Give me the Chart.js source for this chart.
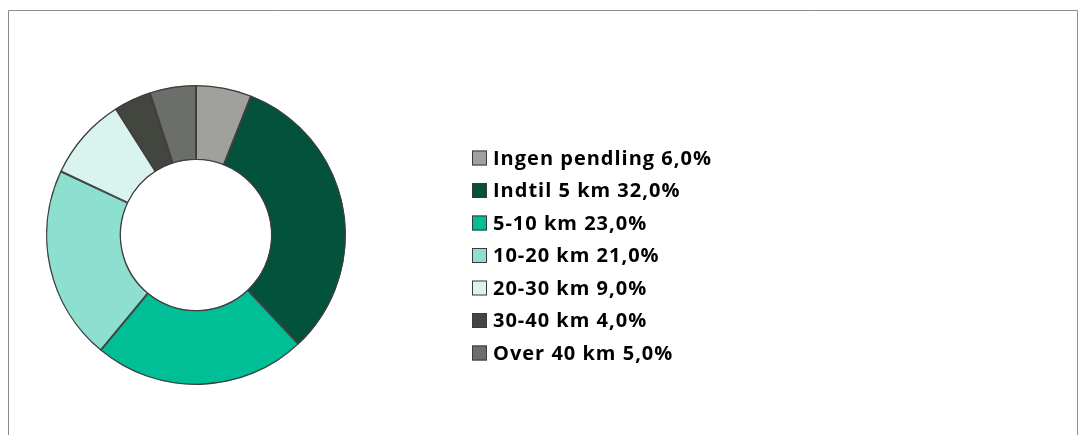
<!DOCTYPE html>
<html>
<head>
<meta charset="utf-8">
<script src="https://cdn.jsdelivr.net/npm/chart.js@4/dist/chart.umd.min.js"></script>
<style>
  html, body { margin: 0; padding: 0; background: #fff; }
  #wrap { position: relative; width: 1088px; height: 435px; }
</style>
</head>
<body>
<div id="wrap"><canvas id="chart" width="1088" height="435"></canvas></div>
<script>
// Data
const categories = ["Ingen pendling", "Indtil 5 km", "5-10 km", "10-20 km", "20-30 km", "30-40 km", "Over 40 km"];
const shares = [6, 32, 23, 21, 9, 4, 5];
const colors = ["#a0a09c", "#02523c", "#00bf96", "#8de0d0", "#d9f4ef", "#43453f", "#6c6e69"];

const fmt = v => v.toFixed(1).replace(".", ",") + "%";

// frame around the plot
const framePlugin = {
  id: "frame",
  beforeDraw(chart) {
    const ctx = chart.ctx;
    ctx.save();
    ctx.strokeStyle = "#8c8c8c";
    ctx.lineWidth = 1;
    ctx.beginPath();
    ctx.moveTo(8.5, 440);
    ctx.lineTo(8.5, 10.5);
    ctx.lineTo(1077.5, 10.5);
    ctx.lineTo(1077.5, 440);
    ctx.stroke();
    ctx.restore();
  }
};

// legend drawn by hand, next to the doughnut
const sideLegend = {
  id: "sideLegend",
  afterDraw(chart) {
    const ctx = chart.ctx;
    const ds = chart.data.datasets[0];
    ctx.save();
    ctx.font = "bold 20px 'Open Sans', sans-serif";
    ctx.letterSpacing = "1px";
    ctx.textBaseline = "middle";
    chart.data.labels.forEach((lab, i) => {
      const y = 158 + i * 32.5;
      ctx.fillStyle = ds.backgroundColor[i];
      ctx.fillRect(472, y - 7.5, 15, 15);
      ctx.strokeStyle = "#3a3a3a";
      ctx.lineWidth = 1;
      ctx.strokeRect(472.5, y - 7, 14, 14);
      ctx.fillStyle = "#000";
      ctx.fillText(lab + " " + fmt(ds.data[i]), 493, y + 1);
    });
    ctx.restore();
  }
};

new Chart(document.getElementById("chart"), {
  type: "doughnut",
  data: {
    labels: categories,
    datasets: [{
      data: shares,
      backgroundColor: colors,
      borderColor: "#3f3f3f",
      borderWidth: 1,
      borderAlign: "inner"
    }]
  },
  options: {
    responsive: false,
    animation: false,
    cutout: "50%",
    layout: { padding: { left: 46, right: 742, top: 85, bottom: 50 } },
    plugins: {
      legend: { display: false },
      tooltip: { enabled: false }
    }
  },
  plugins: [framePlugin, sideLegend]
});
</script>
</body>
</html>
